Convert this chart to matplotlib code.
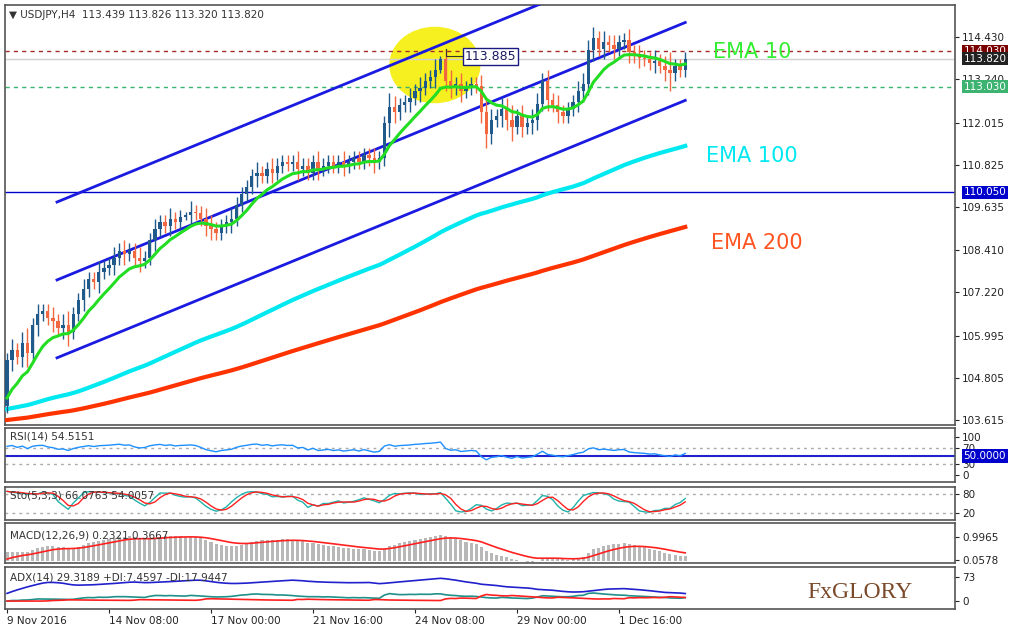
import numpy as np
import matplotlib
matplotlib.use('Agg')
import matplotlib.pyplot as plt
from matplotlib.patches import Ellipse
import matplotlib.transforms as mtrans

# H4 closes, 9 Nov 2016 -> 2 Dec 2016
closes = [105.3, 105.6, 105.4, 105.8, 105.5, 106.3, 106.6, 106.7, 106.5, 106.4,
          106.2, 106.3, 106.1, 106.6, 107.0, 107.3, 107.6, 107.5, 107.8, 107.9,
          108.0, 108.2, 108.4, 108.3, 108.4, 108.2, 108.1, 108.2, 108.7, 109.0,
          109.2, 109.1, 109.3, 109.2, 109.35, 109.4, 109.5, 109.45, 109.3, 109.1,
          109.0, 108.9, 109.1, 109.2, 109.3, 109.7, 110.0, 110.2, 110.5, 110.6,
          110.5, 110.7, 110.6, 110.8, 110.9, 110.85, 110.9, 110.7, 110.8, 110.6,
          110.9, 110.7, 110.8, 110.9, 110.8, 110.9, 110.8, 110.9, 111.0, 110.9,
          111.1, 111.0, 110.9, 111.0, 112.0, 112.45, 112.3, 112.5, 112.6, 112.7,
          112.9, 113.0, 113.2, 113.3, 113.5, 113.8, 113.2, 113.0, 113.1, 112.9,
          113.0, 113.1, 113.05, 112.3, 111.7, 112.1, 112.2, 112.4, 112.1, 111.9,
          112.2, 111.9, 112.0, 112.1, 112.55, 113.2, 112.65, 112.5, 112.3, 112.2,
          112.4, 112.6, 112.9, 113.1, 114.05, 114.4, 114.1, 114.3, 114.2, 114.1,
          114.3, 114.35, 114.0, 113.9, 113.85, 113.8, 113.7, 113.75, 113.6, 113.5,
          113.4, 113.6, 113.5, 113.82]
first_open = 104.0
wicks = [0.2, 0.3, 0.2, 0.3, 0.4, 0.2, 0.3, 0.2, 0.2, 0.3,
         0.2, 0.3, 0.4, 0.2, 0.2, 0.3, 0.2, 0.2, 0.3, 0.2,
         0.2, 0.3, 0.2, 0.3, 0.2, 0.2, 0.3, 0.2, 0.2, 0.3,
         0.2, 0.2, 0.3, 0.2, 0.2, 0.1, 0.3, 0.2, 0.2, 0.3,
         0.3, 0.2, 0.2, 0.2, 0.3, 0.2, 0.2, 0.2, 0.2, 0.3,
         0.2, 0.2, 0.3, 0.2, 0.2, 0.2, 0.2, 0.3, 0.2, 0.2,
         0.2, 0.3, 0.2, 0.2, 0.2, 0.2, 0.3, 0.2, 0.2, 0.2,
         0.2, 0.2, 0.3, 0.2, 0.2, 0.4, 0.3, 0.2, 0.2, 0.3,
         0.2, 0.3, 0.2, 0.2, 0.3, 0.1, 0.3, 0.3, 0.2, 0.3,
         0.2, 0.2, 0.2, 0.3, 0.4, 0.3, 0.2, 0.3, 0.3, 0.4,
         0.2, 0.3, 0.2, 0.3, 0.3, 0.2, 0.3, 0.2, 0.3, 0.2,
         0.2, 0.2, 0.3, 0.3, 0.3, 0.3, 0.2, 0.3, 0.2, 0.3,
         0.2, 0.2, 0.3, 0.2, 0.3, 0.2, 0.2, 0.3, 0.2, 0.3,
         0.5, 0.2, 0.2, 0.2]

date_ticks = [0, 20, 40, 60, 80, 100, 120]
date_labels = ['9 Nov 2016', '14 Nov 08:00', '17 Nov 00:00', '21 Nov 16:00',
               '24 Nov 08:00', '29 Nov 00:00', '1 Dec 16:00']
price_ticks = [114.430, 113.240, 112.015, 110.825, 109.635, 108.410,
               107.220, 105.995, 104.805, 103.615]
level_resist = 114.030
level_last = 113.820
level_support = 113.030
level_blue = 110.050
peak_label = 113.885
# channel ends (bar index, price)
chan_x = [9.8, 133.0]
chan_upper = [109.77, 117.04]
chan_mid = [107.57, 114.84]
chan_low = [105.37, 112.64]

closes = np.array(closes)
n = len(closes)
opens = np.concatenate([[first_open], closes[:-1]])
wk = np.array(wicks[:n])
highs = np.maximum(opens, closes) + wk
lows = np.minimum(opens, closes) - wk
idx = np.arange(n)


def ema(vals, period, seed):
    a = 2.0 / (period + 1)
    out = []
    e = seed
    for v in vals:
        e = e + a * (v - e)
        out.append(e)
    return np.array(out)


def wilder(vals, period, seed=None):
    out = []
    e = vals[0] if seed is None else seed
    for v in vals:
        e = e + (v - e) / period
        out.append(e)
    return np.array(out)


# the long EMAs carry history from before the visible window
ema10 = ema(closes, 10, 104.0)
ema100 = ema(closes, 115, 103.9)
ema200 = ema(closes, 230, 103.6)

# RSI
d = np.diff(closes, prepend=first_open)
up = wilder(np.clip(d, 0, None), 14, 0.08)
dn = wilder(np.clip(-d, 0, None), 14, 0.06)
rsi = 100 - 100 / (1 + up / np.maximum(dn, 1e-9))

# Stochastic 5,3,3
k_raw = []
for i in range(n):
    lo = lows[max(0, i - 4):i + 1].min()
    hi = highs[max(0, i - 4):i + 1].max()
    k_raw.append(100 * (closes[i] - lo) / (hi - lo))
k_raw = np.array(k_raw)
k_line = np.convolve(k_raw, np.ones(3) / 3, mode='full')[:n]
k_line[:2] = k_raw[:2]
d_line = np.convolve(k_line, np.ones(3) / 3, mode='full')[:n]
d_line[:2] = k_line[:2]

# MACD
macd = ema(closes, 12, closes[0]) - ema(closes, 26, closes[0] - 0.3)
signal = ema(macd, 9, 0.0)

# ADX
prev_c = np.concatenate([[first_open], closes[:-1]])
prev_h = np.concatenate([[highs[0]], highs[:-1]])
prev_l = np.concatenate([[lows[0]], lows[:-1]])
tr = np.maximum(highs - lows, np.maximum(abs(highs - prev_c), abs(lows - prev_c)))
upm = highs - prev_h
dnm = prev_l - lows
pdm = np.where((upm > dnm) & (upm > 0), upm, 0)
ndm = np.where((dnm > upm) & (dnm > 0), dnm, 0)
atr = wilder(tr, 14)
pdi = 100 * wilder(pdm, 14) / atr
ndi = 100 * wilder(ndm, 14) / atr
dx = 100 * abs(pdi - ndi) / np.maximum(pdi + ndi, 1e-9)
adx = wilder(dx, 14, 25)

W, H = 1024, 636


def rect(x0, y0, x1, y1):
    return [x0 / W, 1 - y1 / H, (x1 - x0) / W, (y1 - y0) / H]


fig = plt.figure(figsize=(10.24, 6.36), dpi=100)
plt.rcParams['font.family'] = 'DejaVu Sans'
FS = 7.5
XL = (-0.4, 185.9)


def style(ax):
    ax.set_xlim(*XL)
    ax.yaxis.tick_right()
    ax.tick_params(axis='y', labelsize=FS, length=3, pad=2, colors='#222222')
    ax.set_xticks([])
    for s in ax.spines.values():
        s.set_color('#555555')
        s.set_linewidth(1.2)


ax = fig.add_axes(rect(5, 5, 955, 425))
style(ax)
ax.set_ylim(103.473, 115.334)
ax.set_yticks(price_ticks)
ax.set_yticklabels(['%.3f' % p for p in price_ticks])

ax.add_patch(Ellipse((83.9, 113.64), 17.6, 2.12, color='#f7f020', zorder=1))
ax.axhline(level_resist, color='#a52a2a', ls=(0, (3, 3)), lw=1, zorder=2)
ax.axhline(level_last, color='#d0d0d0', lw=1, zorder=2)
ax.axhline(level_support, color='#3cb371', ls=(0, (3, 3)), lw=1, zorder=2)
ax.axhline(level_blue, color='#0000cd', lw=1, zorder=2)

for yy in (chan_upper, chan_mid, chan_low):
    ax.plot(chan_x, yy, color='#1a1ae0', lw=2, zorder=3)

ax.plot(idx, ema200, color='#ff3300', lw=3, zorder=3)
ax.plot(idx, ema100, color='#00e8f0', lw=3, zorder=3)

bull = closes >= opens
cols = np.where(bull, '#1f5a8a', '#f2673f')
ax.vlines(idx, lows, highs, color=cols, lw=1, zorder=4)
ax.bar(idx, np.maximum(abs(closes - opens), 0.03), bottom=np.minimum(opens, closes),
       width=0.65, color=cols, zorder=4)
ax.plot(idx, ema10, color='#22dd22', lw=2.2, zorder=5)

pk = int(np.argmax(highs[80:95])) + 80
ax.plot([pk, pk, 89.5], [highs[pk], peak_label, peak_label], color='#333333', lw=0.8, zorder=6)
ax.text(89.8, peak_label, '%.3f' % peak_label, fontsize=9, color='#1a1a60', va='center',
        bbox=dict(boxstyle='square,pad=0.15', fc='white', ec='#1a1a80', lw=1), zorder=6)

ax.text(138.5, 114.0, 'EMA 10', color='#33ee33', fontsize=15, va='center')
ax.text(137, 111.07, 'EMA 100', color='#00e8f0', fontsize=15, va='center')
ax.text(138, 108.62, 'EMA 200', color='#ff5522', fontsize=15, va='center')
ax.text(0.004, 0.975, '\u25bc USDJPY,H4  113.439 113.826 113.320 113.820', transform=ax.transAxes,
        fontsize=FS, color='#333333', va='center')

tr_lab = mtrans.blended_transform_factory(ax.transAxes, ax.transData)
for val, fc in ((level_resist, '#7a0000'), (level_last, '#222222'),
                (level_support, '#3cb371'), (level_blue, '#0000cc')):
    ax.text(1.009, val, '%.3f' % val, transform=tr_lab, fontsize=FS, color='white',
            va='center', bbox=dict(boxstyle='square,pad=0.15', fc=fc, ec='none'), zorder=7)

# RSI
ar = fig.add_axes(rect(5, 428, 955, 482))
style(ar)
ar.set_ylim(-18, 123)
ar.set_yticks([100, 70, 30, 0])
ar.axhline(70, color='#aaaaaa', ls=(0, (2, 3)), lw=1)
ar.axhline(30, color='#aaaaaa', ls=(0, (2, 3)), lw=1)
ar.axhline(50, color='#2222cc', lw=1.5)
ar.plot(idx, rsi, color='#1e90ff', lw=1)
ar.text(0.005, 0.85, 'RSI(14) 54.5151', transform=ar.transAxes, fontsize=FS, color='#333333', va='center')
ar.text(1.009, 50, '50.0000', transform=mtrans.blended_transform_factory(ar.transAxes, ar.transData),
        fontsize=FS, color='white', va='center', bbox=dict(boxstyle='square,pad=0.15', fc='#0000cc', ec='none'))

# Stochastic
ast = fig.add_axes(rect(5, 487, 955, 520))
style(ast)
ast.set_ylim(-2, 102)
ast.set_yticks([80, 20])
ast.set_yticklabels(['80', '20'])
ast.axhline(80, color='#aaaaaa', ls=(0, (2, 3)), lw=1)
ast.axhline(20, color='#aaaaaa', ls=(0, (2, 3)), lw=1)
ast.plot(idx, k_line, color='#20b2aa', lw=1)
ast.plot(idx, d_line, color='#ff2020', lw=1)
ast.text(0.005, 0.75, 'Sto(5,3,3) 66.0763 54.0057', transform=ast.transAxes, fontsize=FS, color='#333333', va='center')

# MACD
am = fig.add_axes(rect(5, 523, 955, 563))
style(am)
mtop = max(macd.max(), signal.max())
am.set_ylim(-0.08 * mtop, 1.45 * mtop)
am.set_yticks([0.9965 * mtop / 1.1, 0.0578 * mtop / 1.1])
am.set_yticklabels(['0.9965', '0.0578'])
am.bar(idx, macd, width=0.6, color='#b8b8b8')
am.plot(idx, signal, color='#ff2020', lw=1.2)
am.text(0.005, 0.7, 'MACD(12,26,9) 0.2321 0.3667', transform=am.transAxes, fontsize=FS, color='#333333', va='center')

# ADX
aa = fig.add_axes(rect(5, 567, 955, 609))
style(aa)
aa.set_ylim(-24, 103)
aa.set_yticks([73, 0])
aa.plot(idx, adx, color='#2020cc', lw=1.2)
aa.plot(idx, pdi, color='#20908a', lw=1.2)
aa.plot(idx, ndi, color='#ff2020', lw=1.2)
aa.text(0.005, 0.75, 'ADX(14) 29.3189 +DI:7.4597 -DI:17.9447', transform=aa.transAxes, fontsize=FS, color='#333333', va='center')
aa.text(0.955, 0.4, 'FxGLORY', transform=aa.transAxes, fontsize=17, color='#7a4a2a',
        family='Liberation Serif', ha='right', va='center')
aa.set_xticks(date_ticks)
aa.set_xticklabels(date_labels, fontsize=FS, ha='left')
aa.tick_params(axis='x', length=3, pad=2, colors='#222222')

fig.savefig('out.png', dpi=100, facecolor='white')
